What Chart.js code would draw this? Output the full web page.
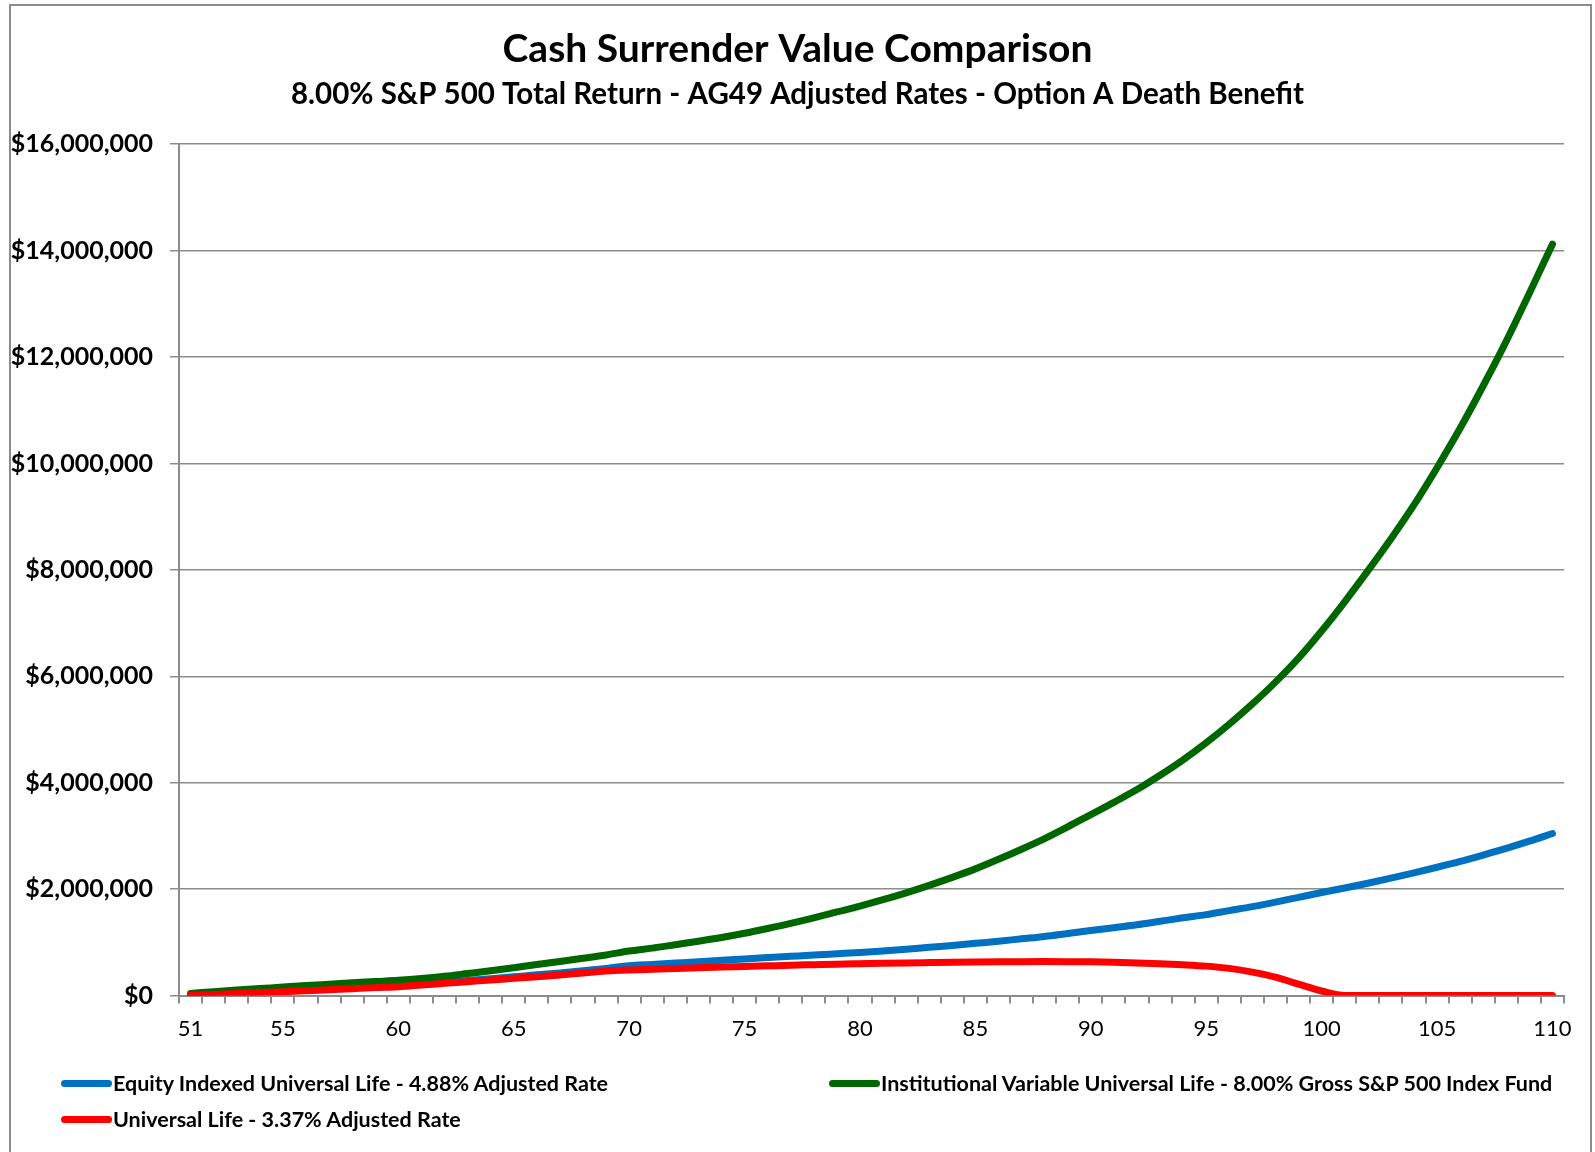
<!DOCTYPE html>
<html>
<head>
<meta charset="utf-8">
<script src="https://cdn.jsdelivr.net/npm/chart.js@4.4.0/dist/chart.umd.min.js"></script>
<style>
  html, body { margin: 0; padding: 0; background: #fff; overflow: hidden; }
  #wrap { position: relative; width: 1595px; height: 1152px; }
  #frame { position: absolute; left: 9px; top: 4px; width: 1583px; height: 1200px; border: 2px solid #8c8c8c; box-sizing: border-box; }
  canvas { position: absolute; left: 0; top: 0; }
  .legend-item { position: absolute; display: flex; align-items: center; height: 24px; font: bold 21.5px Lato, sans-serif; color: #000; white-space: nowrap; }
  .swatch { display: inline-block; width: 51px; height: 7px; border-radius: 4px; margin-right: 1px; }
</style>
</head>
<body>
<div id="wrap">
  <div id="frame"></div>
  <canvas id="csvChart" width="1595" height="1152"></canvas>
  <div id="legend"></div>
</div>
<script>
// ages on the x axis
const ages = Array.from({ length: 60 }, (_, i) => 51 + i);

// Equity Indexed Universal Life - 4.88% Adjusted Rate
const equityIndexedUL = [
  10000, 30000, 50000, 70000, 90000, 110000, 130000, 152000, 175000, 197000,
  222000, 250000, 282000, 316000, 352000, 388000, 425000, 465000, 510000, 560000,
  585000, 610000, 635000, 662000, 688000, 712000, 736000, 760000, 785000, 810000,
  838000, 870000, 905000, 940000, 980000, 1020000, 1065000, 1110000, 1165000, 1220000,
  1275000, 1330000, 1395000, 1460000, 1520000, 1595000, 1670000, 1755000, 1845000, 1935000,
  2020000, 2110000, 2205000, 2305000, 2410000, 2520000, 2640000, 2765000, 2900000, 3045000
];

// Institutional Variable Universal Life - 8.00% Gross S&P 500 Index Fund
const institutionalVUL = [
  40000, 72000, 102000, 130000, 158000, 186000, 212000, 238000, 262000, 285000,
  318000, 360000, 412000, 465000, 522000, 582000, 640000, 700000, 762000, 835000,
  890000, 955000, 1020000, 1090000, 1170000, 1260000, 1355000, 1460000, 1570000, 1680000,
  1800000, 1930000, 2070000, 2220000, 2380000, 2560000, 2750000, 2950000, 3170000, 3400000,
  3630000, 3870000, 4140000, 4430000, 4750000, 5100000, 5480000, 5890000, 6340000, 6850000,
  7400000, 7980000, 8580000, 9220000, 9920000, 10660000, 11460000, 12300000, 13200000, 14120000
];

// Universal Life - 3.37% Adjusted Rate
const universalLife = [
  5000, 20000, 38000, 55000, 72000, 90000, 108000, 128000, 148000, 166000,
  197000, 229000, 260000, 291000, 323000, 354000, 385000, 423000, 458000, 479000,
  494000, 508000, 522000, 535000, 547000, 558000, 569000, 579000, 589000, 597000,
  605000, 612000, 618000, 624000, 629000, 633000, 636000, 637000, 636000, 632000,
  625000, 613000, 598000, 578000, 552000, 510000, 440000, 345000, 212000, 85000,
  0, 0, 0, 0, 0, 0, 0, 0, 0, 0
];

const seriesNames = [
  'Equity Indexed Universal Life - 4.88% Adjusted Rate',
  'Institutional Variable Universal Life - 8.00% Gross S&P 500 Index Fund',
  'Universal Life - 3.37% Adjusted Rate'
];
const seriesColors = ['#0070C0', '#006600', '#FF0000'];

Chart.defaults.font.family = 'Lato, sans-serif';
Chart.defaults.color = '#000';

const axisGray = '#8c8c8c';

const ctx = document.getElementById('csvChart').getContext('2d');
const csvChart = new Chart(ctx, {
  type: 'line',
  data: {
    labels: ages,
    datasets: [
      { label: seriesNames[0], data: equityIndexedUL, borderColor: seriesColors[0], order: 2 },
      { label: seriesNames[1], data: institutionalVUL, borderColor: seriesColors[1], order: 1 },
      { label: seriesNames[2], data: universalLife, borderColor: seriesColors[2], order: 0 }
    ]
  },
  options: {
    responsive: false,
    animation: false,
    layout: { padding: 0 },
    elements: {
      line: { borderWidth: 7, tension: 0.4, cubicInterpolationMode: 'monotone', borderCapStyle: 'round', borderJoinStyle: 'round', fill: false },
      point: { radius: 0, hoverRadius: 0 }
    },
    plugins: {
      legend: { display: false },
      tooltip: { enabled: false },
      title: {
        display: true,
        text: 'Cash Surrender Value Comparison',
        font: { size: 39, weight: 'bold' },
        color: '#000',
        padding: { top: 26, bottom: 0 }
      },
      subtitle: {
        display: true,
        text: '8.00% S&P 500 Total Return - AG49 Adjusted Rates - Option A Death Benefit',
        font: { size: 29.5, weight: 'bold' },
        color: '#000',
        padding: { top: 4, bottom: 32 }
      }
    },
    scales: {
      x: {
        offset: true,
        grid: { offset: true, drawOnChartArea: false, tickLength: 8, color: axisGray, lineWidth: 2 },
        border: { color: axisGray, width: 2 },
        ticks: {
          autoSkip: false,
          maxRotation: 0,
          padding: 12,
          font: { size: 22 },
          color: '#000',
          callback: function (value, index) {
            const a = ages[index];
            return (a === 51 || a % 5 === 0) ? String(a) : '';
          }
        },
        afterFit: function (scale) { scale.height = 156.5; }
      },
      y: {
        min: 0,
        max: 16000000,
        grid: { color: axisGray, lineWidth: 1.5, tickLength: 9 },
        border: { color: axisGray, width: 2 },
        ticks: {
          stepSize: 2000000,
          padding: 17,
          font: { size: 25, weight: 'bold' },
          color: '#000',
          callback: v => '$' + v.toLocaleString('en-US')
        },
        afterFit: function (scale) { scale.width = 179; }
      },
      // empty right-hand strip so the plot ends where the original does
      spacer: {
        type: 'linear',
        position: 'right',
        grid: { display: false },
        border: { display: false },
        ticks: { display: false },
        afterFit: function (scale) { scale.width = 31; }
      }
    }
  }
});

// legend laid out like the original: two columns, third item on the second row
const legendSpots = [
  { left: 61, top: 1071 },
  { left: 829, top: 1071 },
  { left: 61, top: 1107 }
];
const legend = document.getElementById('legend');
seriesNames.forEach((name, i) => {
  const item = document.createElement('div');
  item.className = 'legend-item';
  item.style.left = legendSpots[i].left + 'px';
  item.style.top = legendSpots[i].top + 'px';
  item.innerHTML = '<span class="swatch" style="background:' + seriesColors[i] + '"></span><span>' + name.replace(/&/g, '&amp;') + '</span>';
  legend.appendChild(item);
});
</script>
</body>
</html>
